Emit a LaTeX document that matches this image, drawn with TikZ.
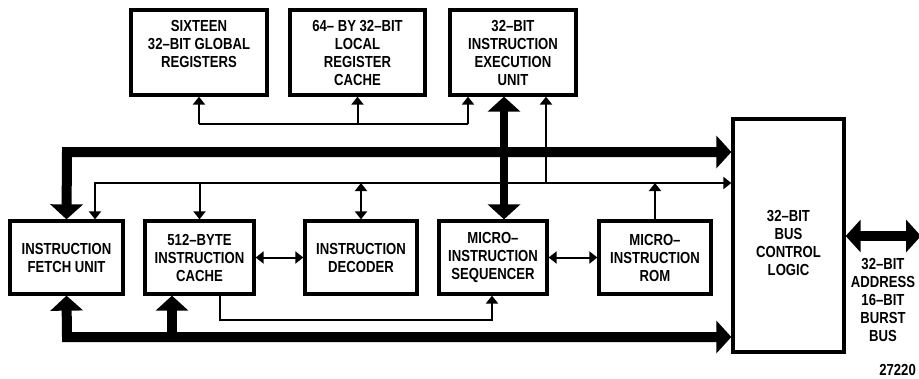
\documentclass[tikz,border=0pt]{standalone}
\usepackage{fontspec}
\setmainfont{Liberation Sans}[FakeStretch=0.82]
\usetikzlibrary{arrows.meta}
\tikzset{
  blk/.style={draw, line width=3.3pt, align=center, inner sep=0pt,
    font=\fontsize{16}{18}\selectfont\bfseries},
  lbl/.style={align=center, inner sep=0pt, font=\fontsize{16}{18}\selectfont\bfseries},
  thinln/.style={line width=2pt},
  sm/.tip={Triangle[length=8pt,width=12pt]},
  bg/.tip={Triangle[length=15pt,width=32pt]},
  bus/.style={line width=10pt},
  vbus/.style={line width=8pt}
}
\begin{document}
\begin{tikzpicture}[x=1pt,y=-1pt]
\useasboundingbox (0,0) rectangle (919,378);
% top row
\node[blk, minimum width=136pt, minimum height=85pt] (glob) at (199,52.5) {SIXTEEN\\32–BIT GLOBAL\\REGISTERS\\\mbox{}};
\node[blk, minimum width=135pt, minimum height=85pt] (loc) at (357.5,52.5) {64– BY 32–BIT\\LOCAL\\REGISTER\\CACHE};
\node[blk, minimum width=126pt, minimum height=85pt] (exec) at (513,52.5) {32–BIT\\INSTRUCTION\\EXECUTION\\UNIT};
% middle row
\node[blk, minimum width=113pt, minimum height=73pt] (fetch) at (66.5,257.5) {INSTRUCTION\\FETCH UNIT};
\node[blk, minimum width=109pt, minimum height=73pt] (cache) at (199.5,257.5) {512–BYTE\\INSTRUCTION\\CACHE};
\node[blk, minimum width=112pt, minimum height=73pt] (dec) at (361,257.5) {INSTRUCTION\\DECODER};
\node[blk, minimum width=108pt, minimum height=73pt] (seq) at (493,257.5) {MICRO–\\INSTRUCTION\\SEQUENCER};
\node[blk, minimum width=112pt, minimum height=73pt] (rom) at (655,257.5) {MICRO–\\INSTRUCTION\\ROM};
\node[blk, minimum width=111pt, minimum height=233pt] (bcl) at (788.5,235.5) {};
\node[lbl] (bcltxt) at (788.5,243) {32–BIT\\BUS\\CONTROL\\LOGIC};
\node[lbl] (ext) at (883,300) {32–BIT\\ADDRESS\\16–BIT\\BURST\\BUS};
\node[lbl, anchor=east] (fig) at (916,370) {27220};
% coordinates
\coordinate (tbL) at (199,124);
\coordinate (tbR) at (468,124);
\coordinate (hbL) at (67,152);
\coordinate (sbL) at (95,183);
\coordinate (sbE) at (546,183);
\coordinate (bbL) at (67,337);
\coordinate (bbC) at (172,337);
\coordinate (cdL) at (220,320);
\coordinate (cdR) at (492,320);
\coordinate (vb) at (504,152);
\coordinate (extR) at (921,236);
% top thin bus
\draw[thinln] (tbL) -- (tbR);
\draw[thinln,-sm] (tbL) -- (glob.south);
\draw[thinln,-sm] (loc.south |- tbL) -- (loc.south);
\draw[thinln,-sm] (tbR) -- (tbR |- exec.south);
% thick upper bus
\draw[bus,bg-bg] (fetch.north) -- (hbL) -- (hbL -| bcl.west);
% thin upper bus
\draw[thinln,sm-sm] (sbL |- fetch.north) -- (sbL) -- (sbL -| bcl.west);
\draw[thinln,-sm] (cache.north |- sbL) -- (cache.north);
\draw[thinln,sm-sm] (dec.north |- sbL) -- (dec.north);
\draw[thinln,-sm] (sbE) -- (sbE |- exec.south);
\draw[thinln,-sm] (rom.north) -- (rom.north |- sbL);
% thick vertical
\draw[vbus,bg-bg] (vb |- exec.south) -- (vb |- seq.north);
% horizontal links
\draw[thinln,sm-sm] (cache.east) -- (dec.west);
\draw[thinln,sm-sm] (seq.east) -- (rom.west);
% bottom thin
\draw[thinln,-sm] (cdL |- cache.south) -- (cdL) -- (cdR) -- (cdR |- seq.south);
% bottom thick bus
\draw[bus,bg-bg] (fetch.south) -- (bbL) -- (bbL -| bcl.west);
\draw[bus,-bg] (bbC) -- (bbC |- cache.south);
% external
\draw[bus,bg-bg] (bcl.east |- extR) -- (extR);
\end{tikzpicture}
\end{document}
